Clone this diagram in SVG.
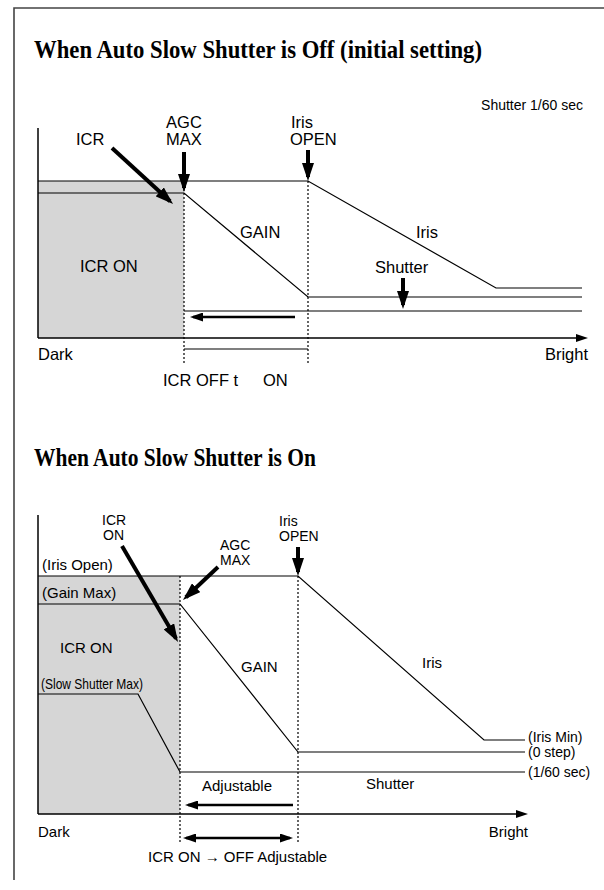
<svg xmlns="http://www.w3.org/2000/svg" width="604" height="890" viewBox="0 0 604 890">
<style>
.t{font-family:"Liberation Serif","Times New Roman",serif;font-weight:bold;font-size:24.5px;fill:#000}
.a{font-family:"Liberation Sans",Arial,sans-serif;font-size:16.5px;fill:#000}
.b{font-family:"Liberation Sans",Arial,sans-serif;font-size:15px;fill:#000}
.s{font-family:"Liberation Sans",Arial,sans-serif;font-size:14px;fill:#000}
.r{font-family:"Liberation Sans",Arial,sans-serif;font-size:14px;fill:#000}
.ln{fill:none;stroke:#000;stroke-width:1.2}
.ax{fill:none;stroke:#000;stroke-width:1.5}
.dot{fill:none;stroke:#000;stroke-width:1.2;stroke-dasharray:2 2}
.big{fill:none;stroke:#000;stroke-width:4;marker-end:url(#mBig)}
.mid{fill:none;stroke:#000;stroke-width:2.5}
.gray{fill:#d6d6d6;stroke:none}
</style>
<defs>
<marker id="mBig" viewBox="0 0 18 12" markerWidth="18" markerHeight="12" refX="14" refY="6" orient="auto" markerUnits="userSpaceOnUse"><path d="M0,0 L18,6 L0,12 z" fill="#000"/></marker>
<marker id="mMid" viewBox="0 0 13 9" markerWidth="13" markerHeight="9" refX="10" refY="4.5" orient="auto-start-reverse" markerUnits="userSpaceOnUse"><path d="M0,0 L13,4.5 L0,9 z" fill="#000"/></marker>
<marker id="mAx" viewBox="0 0 12 8" markerWidth="12" markerHeight="8" refX="9" refY="4" orient="auto" markerUnits="userSpaceOnUse"><path d="M0,0 L12,4 L0,8 z" fill="#000"/></marker>
</defs>
<rect width="604" height="890" fill="#fff"/>
<path d="M604,8 H14 V880" fill="none" stroke="#444" stroke-width="1.6"/>

<g id="chart1">
<text class="t" x="34" y="58" textLength="448" lengthAdjust="spacingAndGlyphs">When Auto Slow Shutter is Off (initial setting)</text>
<rect class="gray" x="38" y="181" width="146" height="157"/>
<g id="connectors1">
<path class="ax" d="M38,128 V338"/>
<path class="ax" d="M38,338 H585" marker-end="url(#mAx)"/>
<path class="ln" d="M38,181 H308 L496,288 H582"/>
<path class="ln" d="M38,193 H184 L308,297 H582"/>
<path class="ln" d="M184,311 H582"/>
<path class="ln" d="M184,349 H308"/>
<path class="dot" d="M184,181 V365 M308,181 V365"/>
<path class="mid" d="M295,317 H193" marker-end="url(#mMid)"/>
<path class="big" d="M184,152 V188"/>
<path class="big" d="M308,150 V177"/>
<path class="big" d="M403,278 V305"/>
<path class="big" d="M112,148 L170.1,201.3"/>
</g>
<g id="labels1">
<text class="s" x="583" y="110" text-anchor="end">Shutter 1/60 sec</text>
<text class="a" x="184" y="128" text-anchor="middle">AGC</text>
<text class="a" x="184" y="145" text-anchor="middle">MAX</text>
<text class="a" x="291" y="128">Iris</text>
<text class="a" x="290" y="145">OPEN</text>
<text class="a" x="76" y="145">ICR</text>
<text class="a" x="240" y="238">GAIN</text>
<text class="a" x="80" y="272">ICR ON</text>
<text class="a" x="416" y="238">Iris</text>
<text class="a" x="375" y="273">Shutter</text>
<text class="a" x="38" y="360">Dark</text>
<text class="a" x="588" y="360" text-anchor="end">Bright</text>
<text class="a" x="163" y="386">ICR OFF t<tspan x="263">ON</tspan></text>
</g>
</g>

<g id="chart2">
<text class="t" x="34" y="466" textLength="282" lengthAdjust="spacingAndGlyphs">When Auto Slow Shutter is On</text>
<rect class="gray" x="38" y="576" width="142" height="238"/>
<g id="connectors2">
<path class="ax" d="M38,515 V814"/>
<path class="ax" d="M38,814 H525" marker-end="url(#mAx)"/>
<path class="ln" d="M38,576 H298 L484,740 H525"/>
<path class="ln" d="M38,604 H180 L298,752 H525"/>
<path class="ln" d="M38,694 H138 L180,772 H525"/>
<path class="dot" d="M180,576 V842 M298,576 V842"/>
<path class="mid" d="M293,805 H188" marker-end="url(#mMid)"/>
<path class="mid" d="M186,838 H290" marker-start="url(#mMid)" marker-end="url(#mMid)"/>
<path class="big" d="M298,547 V572"/>
<path class="big" d="M122,546 L176,638.5"/>
<path class="big" d="M218,567 L185.9,597.3"/>
</g>
<g id="labels2">
<text class="s" x="102" y="524.5">ICR</text>
<text class="s" x="103" y="540">ON</text>
<text class="s" x="220" y="549.5">AGC</text>
<text class="s" x="220" y="565">MAX</text>
<text class="s" x="279" y="525.5">Iris</text>
<text class="s" x="279" y="541">OPEN</text>
<text class="b" x="42" y="570">(Iris Open)</text>
<text class="b" x="42" y="598">(Gain Max)</text>
<text class="b" x="60" y="653">ICR ON</text>
<text class="b" x="41" y="689" textLength="102" lengthAdjust="spacingAndGlyphs">(Slow Shutter Max)</text>
<text class="b" x="241" y="672">GAIN</text>
<text class="b" x="422" y="668">Iris</text>
<text class="r" x="528" y="742">(Iris Min)</text>
<text class="r" x="528" y="756.5">(0 step)</text>
<text class="r" x="528" y="776.5">(1/60 sec)</text>
<text class="b" x="202" y="791">Adjustable</text>
<text class="b" x="366" y="789">Shutter</text>
<text class="b" x="38" y="837">Dark</text>
<text class="b" x="528" y="837" text-anchor="end">Bright</text>
<text class="b" x="148" y="862">ICR ON → OFF Adjustable</text>
</g>
</g>
</svg>
